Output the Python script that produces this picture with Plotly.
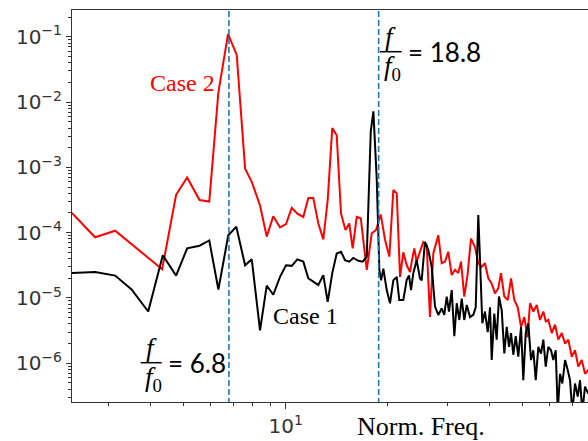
import plotly.graph_objects as go

# ---------------- data ----------------
freq_case2 = [2.34, 2.74, 3.14, 4.32, 4.75, 5.12, 5.57, 5.95, 6.33, 6.76, 7.17, 7.59, 7.94, 8.40, 8.79,
              9.19, 9.62, 10.02, 10.42, 10.82, 11.27, 11.66, 12.06, 12.48, 12.91, 13.30, 13.72, 14.14,
              14.56, 15.01, 15.40, 15.76, 16.20, 16.65, 17.34, 17.94, 18.47, 19.07, 19.63, 20.22, 20.77,
              21.26, 21.74, 22.23, 22.75, 23.27, 23.58, 23.95, 24.34, 24.89, 25.45, 26.05, 26.64, 27.25,
              28.19, 28.85, 29.50, 30.17, 30.88, 31.58, 32.29, 32.89, 33.63, 34.38, 35.20, 36.17, 36.99,
              37.86, 38.71, 39.59, 40.52, 41.43, 42.37, 43.16, 44.14, 45.18, 46.20, 47.24, 48.35, 49.45,
              50.56, 51.68, 52.56, 53.76, 55.01, 56.25, 57.54, 58.48, 59.52, 60.92, 62.30, 63.70, 65.20,
              66.68, 68.18, 69.79, 71.36, 72.97, 74.69, 76.37, 77.93, 81.2]
psd_case2 = [2.0e-4, 8.5e-5, 1.07e-4, 2.75e-5, 3.8e-4, 7.0e-4, 3.16e-4, 3.0e-4, 1.41e-2, 0.11, 5.25e-2,
             9.5e-4, 6.0e-4, 2.6e-4, 8.7e-5, 1.78e-4, 1.2e-4, 1.35e-4, 2.4e-4, 1.95e-4, 1.74e-4, 3.4e-4,
             3.4e-4, 1.38e-4, 7.9e-5, 3.16e-4, 4.0e-3, 3.1e-3, 1.95e-4, 1.1e-4, 1.38e-4, 5.75e-5, 1.74e-4,
             1.66e-4, 2.7e-5, 9.8e-5, 1.1e-4, 1.9e-4, 7.8e-5, 4.3e-5, 4.5e-4, 4.0e-4, 2.1e-5, 5.0e-5,
             3.16e-5, 2.5e-5, 3.8e-5, 5.75e-5, 3.6e-5, 5.1e-5, 7.2e-5, 6.5e-5, 5.1e-6, 4.8e-5, 9.1e-5,
             3.4e-5, 3.6e-5, 5.1e-5, 2.24e-5, 2.7e-5, 2.4e-5, 3.6e-5, 1.05e-5, 2.24e-5, 8.1e-5, 6.0e-5,
             3.4e-5, 3.0e-5, 3.4e-5, 2.0e-5, 1.66e-5, 1.17e-5, 1.41e-5, 2.4e-5, 1.05e-5, 9.3e-6, 2.0e-5,
             9.3e-6, 7.2e-6, 3.6e-6, 5.1e-6, 2.5e-6, 8.3e-6, 6.2e-6, 7.8e-6, 4.6e-6, 6.2e-6, 4.4e-6,
             4.6e-6, 2.9e-6, 3.9e-6, 2.3e-6, 2.9e-6, 2.0e-6, 2.3e-6, 1.26e-6, 1.58e-6, 8.9e-7, 1.12e-6,
             6.9e-7, 7.8e-7, 6.3e-7]

freq_case1 = [2.34, 2.74, 3.14, 3.51, 3.93, 4.34, 4.75, 5.12, 5.57, 5.95, 6.33, 6.77, 7.15, 7.59, 7.94,
              8.40, 8.79, 9.19, 9.62, 10.02, 10.42, 10.82, 11.27, 11.66, 12.06, 12.48, 12.91, 13.30, 13.72,
              14.14, 14.56, 14.96, 15.40, 15.82, 16.38, 16.87, 17.34, 17.82, 18.14, 18.56, 18.89, 19.11,
              19.41, 19.86, 20.31, 20.77, 21.26, 21.63, 22.23, 22.75, 23.11, 23.42, 23.79, 24.34, 24.89,
              25.18, 25.75, 26.34, 26.96, 27.57, 28.19, 28.85, 29.36, 29.85, 30.31, 30.88, 31.43, 31.95,
              32.52, 33.05, 33.63, 34.20, 34.97, 35.76, 36.35, 36.99, 37.43, 38.01, 38.71, 39.43, 40.06,
              40.52, 41.23, 41.91, 42.57, 43.37, 44.14, 44.87, 45.58, 46.20, 46.93, 47.70, 48.54, 49.45,
              50.22, 51.05, 51.95, 52.92, 53.76, 54.64, 55.61, 56.64, 57.54, 58.48, 59.52, 60.62, 61.58,
              62.59, 63.45, 64.44, 65.46, 66.68, 67.91, 68.97, 70.06, 71.36, 72.68, 73.82, 74.99, 76.37,
              77.93, 81.2]
psd_case1 = [2.4e-5, 2.5e-5, 2.2e-5, 1.35e-5, 6.2e-6, 4.5e-5, 2.2e-5, 5.75e-5, 6.3e-5, 7.6e-5, 1.35e-5,
             9.1e-5, 1.23e-4, 3.16e-5, 3.9e-5, 3.2e-6, 1.55e-5, 1.12e-5, 2.1e-5, 3.16e-5, 3.1e-5, 3.9e-5,
             3.6e-5, 2.0e-5, 1.78e-5, 1.58e-5, 2.24e-5, 8.7e-6, 2.4e-5, 4.8e-5, 5.1e-5, 3.8e-5, 3.6e-5,
             4.1e-5, 3.7e-5, 3.6e-5, 4.3e-5, 3.55e-3, 7.2e-3, 6.5e-4, 2.7e-5, 1.86e-5, 2.8e-5, 1.32e-5,
             8.3e-6, 1.86e-5, 2.1e-5, 9.3e-6, 9.3e-6, 1.9e-5, 2.2e-5, 1.32e-5, 2.4e-5, 3.8e-5, 2.0e-5,
             1.86e-5, 7.2e-5, 5.4e-5, 3.0e-5, 7.4e-6, 5.5e-6, 6.9e-6, 5.5e-6, 1.05e-5, 6.2e-6, 1.32e-5,
             2.6e-6, 8.3e-6, 4.6e-6, 9.8e-6, 4.6e-6, 7.8e-6, 5.1e-6, 5.5e-6, 7.2e-6, 1.86e-4, 3.8e-5,
             4.1e-6, 6.2e-6, 3.0e-6, 7.2e-6, 1.12e-6, 5.75e-6, 2.3e-6, 1.05e-5, 6.5e-6, 1.41e-6, 3.6e-6,
             1.78e-6, 2.9e-6, 1.35e-6, 2.6e-6, 1.26e-6, 3.6e-6, 5.5e-7, 2.9e-6, 4.1e-6, 1.12e-6, 1.58e-6,
             5.5e-7, 1.78e-6, 1.41e-6, 2.3e-6, 8.9e-7, 1.78e-6, 1.58e-6, 1.12e-6, 1.58e-6, 1.8e-7, 6.9e-7,
             4.9e-7, 1.12e-6, 7.9e-7, 5.5e-7, 1.8e-7, 4.9e-7, 3.1e-7, 5.5e-7, 1.8e-7, 4.4e-7, 3.5e-7,
             3.2e-7]

peak_freqs = [6.8, 18.8]
peak_labels = ["6.8", "18.8"]
series_names = ["Case 1", "Case 2"]

x_tick_vals = [10]
x_tick_text = ["10<sup>1</sup>"]
x_minor_vals = [2, 3, 4, 5, 6, 7, 8, 9, 20, 30, 40, 50, 60, 70, 80, 90]
y_tick_vals = [1e-6, 1e-5, 1e-4, 1e-3, 1e-2, 1e-1]
y_tick_text = ["10<sup>−6</sup>", "10<sup>−5</sup>", "10<sup>−4</sup>",
               "10<sup>−3</sup>", "10<sup>−2</sup>", "10<sup>−1</sup>"]
y_minor_vals = [m * 10.0 ** e for e in range(-7, 0) for m in range(2, 10)]

# ---------------- layout geometry ----------------
W, H = 588, 441
L, R, T, B = 72, 0, 10, 39
PW, PH = W - L - R, H - T - B


def px(x):
    return (x - L) / PW


def py(y):
    return (H - B - y) / PH


fig = go.Figure()
fig.add_trace(go.Scatter(x=freq_case2, y=psd_case2, mode="lines", name=series_names[1],
                         line=dict(color="#ff0000", width=2)))
fig.add_trace(go.Scatter(x=freq_case1, y=psd_case1, mode="lines", name=series_names[0],
                         line=dict(color="#000000", width=2)))
for f in peak_freqs:
    fig.add_trace(go.Scatter(x=[f, f], y=[1e-8, 1.0], mode="lines",
                             line=dict(color="#1f77b4", width=1.6, dash="6px,3px")))

tickfont = dict(family="DejaVu Sans", size=20, color="#333333")
fig.update_layout(
    width=W, height=H, margin=dict(l=L, r=R, t=T, b=B),
    paper_bgcolor="white", plot_bgcolor="white", showlegend=False,
    xaxis=dict(type="log", range=[0.3696, 1.8917], showgrid=False, zeroline=False,
               showline=True, linecolor="#333333", linewidth=1, mirror=True,
               ticks="outside", ticklen=6, tickwidth=1, tickcolor="#333333",
               tickmode="array", tickvals=x_tick_vals, ticktext=x_tick_text, tickfont=tickfont,
               minor=dict(tickmode="array", tickvals=x_minor_vals, ticks="outside", ticklen=3,
                          tickwidth=1, tickcolor="#333333", showgrid=False)),
    yaxis=dict(type="log", range=[-6.593, -0.591], showgrid=False, zeroline=False,
               showline=True, linecolor="#333333", linewidth=1, mirror=False,
               ticks="outside", ticklen=5, tickwidth=1, tickcolor="#333333",
               tickmode="array", tickvals=y_tick_vals, ticktext=y_tick_text, tickfont=tickfont,
               minor=dict(tickmode="array", tickvals=y_minor_vals, ticks="outside", ticklen=3,
                          tickwidth=1, tickcolor="#333333", showgrid=False)),
)

serif = "Liberation Serif"
ann = [
    dict(x=px(182.5), y=py(83), text=series_names[1], font=dict(family=serif, size=24, color="#ff0000")),
    dict(x=px(305), y=py(316), text=series_names[0], font=dict(family=serif, size=24, color="#000000")),
    dict(x=px(421), y=py(426), text="Norm. Freq.", font=dict(family=serif, size=26, color="#000000")),
]
frac_geom = [(140.7, 161.7, 362.7), (380.0, 401.7, 51.7)]
for (xl, xr, yl), lab in zip(frac_geom, peak_labels):
    xc = (xl + xr) / 2
    ann.append(dict(x=px(xc), y=py(yl - 15), text="<i>f</i>",
                    font=dict(family=serif, size=27, color="black")))
    ann.append(dict(x=px(xc + 2), y=py(yl + 16), text="<i>f</i><sub>0</sub>",
                    font=dict(family=serif, size=27, color="black")))
    ann.append(dict(x=px(xr + 4), y=py(yl), text="= " + lab, xanchor="left",
                    font=dict(family="Lato", size=26, color="black")))
    fig.add_shape(type="line", xref="paper", yref="paper", x0=px(xl), x1=px(xr),
                  y0=py(yl), y1=py(yl), line=dict(color="black", width=1.5))

for a in ann:
    a.setdefault("xanchor", "center")
    fig.add_annotation(xref="paper", yref="paper", yanchor="middle", showarrow=False, **a)

fig.write_html("out.html")
